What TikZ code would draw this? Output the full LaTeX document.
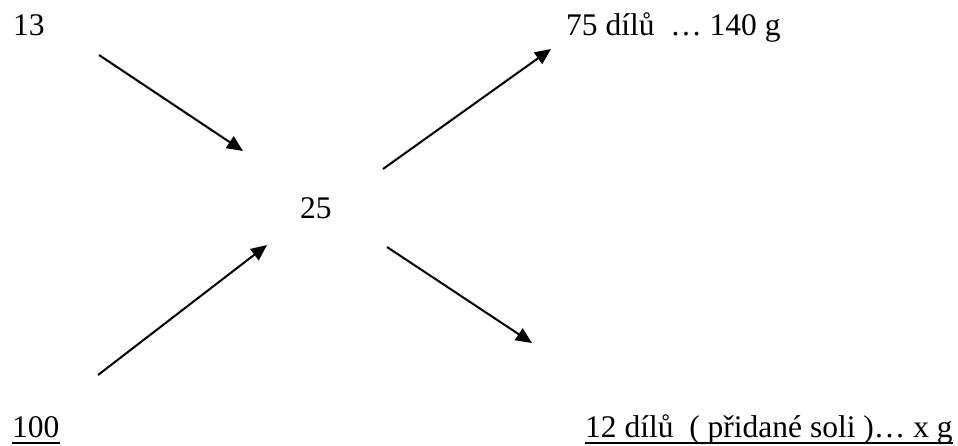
\documentclass[tikz,border=0pt]{standalone}
\usepackage{fontspec}
\setmainfont{Liberation Serif}
\usetikzlibrary{arrows.meta}

\tikzset{
	num/.style={anchor=base west,inner sep=0pt,font=\fontsize{31.5}{38}\selectfont},
	arr/.style={line width=\width,-{Triangle[length=16pt,width=14pt]}},
	ul/.style={line width=1.5pt}
}

\begin{document}
\begin{tikzpicture}[x=1pt,y=-1pt]
			%%%%% START %%%%%
			\def\width{2pt}
			\def\uldrop{6pt}
			
			\useasboundingbox (0,0) rectangle (958,445);
			
			% the five numbers
			\node[num] (n13) at (13,35) {13};
			\node[num] (n25) at (300,218) {25};
			\node[num] (n100) at (12,437) {100};
			\node[num] (n75) at (566,35) {75 dílů \ … 140 g};
			\node[num] (n12) at (585,437) {12 dílů \ ( přidané soli )… x g};
			
			\draw[ul] ([yshift=-\uldrop]n100.base west) -- ([yshift=-\uldrop]n100.base east);
			\draw[ul] ([yshift=-\uldrop]n12.base west) -- ([yshift=-\uldrop]n12.base east);
			
			% cross of arrows
			\coordinate (a1s) at (99,55);   \coordinate (a1e) at (243,151);
			\coordinate (a2s) at (98,375);  \coordinate (a2e) at (267,245);
			\coordinate (a3s) at (383,169); \coordinate (a3e) at (551,49);
			\coordinate (a4s) at (387,247); \coordinate (a4e) at (532,343);
			
			\draw[arr] (a1s) -- (a1e);
			\draw[arr] (a2s) -- (a2e);
			\draw[arr] (a3s) -- (a3e);
			\draw[arr] (a4s) -- (a4e);
			%%%%% END %%%%%
\end{tikzpicture}
\end{document}
